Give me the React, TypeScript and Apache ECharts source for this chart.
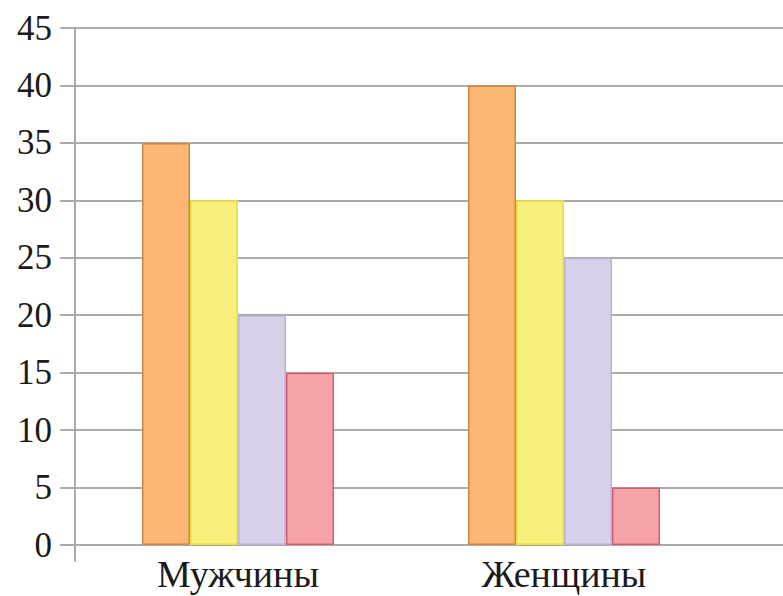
import React, { useEffect, useRef } from "react";
import * as echarts from "echarts";

const categories = ["Мужчины", "Женщины"];
const series1 = [35, 40];
const series2 = [30, 30];
const series3 = [20, 25];
const series4 = [15, 5];
const yMin = 0;
const yMax = 45;
const yStep = 5;

const fills = ["#fdb574", "#f8ee7c", "#d9d1ea", "#f5a3a8"];
const borders = ["#c98845", "#eadc3c", "#bbb1d3", "#d2606e"];

export default function App() {
  const ref = useRef<HTMLDivElement>(null);
  useEffect(() => {
    if (!ref.current) return;
    const chart = echarts.init(ref.current, null, { renderer: "svg" });
    const font = "Liberation Serif";
    const grey = "#ababab";
    const dataSets = [series1, series2, series3, series4];
    chart.setOption({
      animation: false,
      backgroundColor: "#ffffff",
      grid: [
        { left: 60, right: 0, top: 28, bottom: 51 },
        { left: 75, right: 0, top: 28, bottom: 35 },
        { left: 75, right: 56, top: 28, bottom: 51 },
      ],
      xAxis: [
        { gridIndex: 0, type: "value", show: false, min: 0, max: 1 },
        { gridIndex: 1, type: "value", show: false, min: 0, max: 1 },
        {
          gridIndex: 2,
          type: "category",
          data: categories,
          axisLine: { show: false },
          axisTick: { show: false },
          axisLabel: {
            fontFamily: font,
            fontSize: 38,
            lineHeight: 38,
            color: "#1a1a1a",
            margin: 10,
          },
        },
      ],
      yAxis: [
        {
          gridIndex: 0,
          type: "value",
          min: yMin,
          max: yMax,
          interval: yStep,
          axisLine: { show: false },
          axisTick: { show: false },
          axisLabel: { show: false },
          splitLine: { show: true, lineStyle: { color: grey, width: 2 } },
        },
        {
          gridIndex: 1,
          type: "value",
          min: 0,
          max: 1,
          axisLine: { show: true, lineStyle: { color: grey, width: 2 } },
          axisTick: { show: false },
          axisLabel: { show: false },
          splitLine: { show: false },
        },
        {
          gridIndex: 2,
          type: "value",
          min: yMin,
          max: yMax,
          interval: yStep,
          axisLine: { show: false },
          axisTick: { show: false },
          splitLine: { show: false },
          axisLabel: { fontFamily: font, fontSize: 35, color: "#1a1a1a", margin: 23 },
        },
      ],
      series: dataSets.map((d, i) => ({
        type: "bar",
        xAxisIndex: 2,
        yAxisIndex: 2,
        data: d,
        barWidth: 48,
        barGap: "0%",
        itemStyle: { color: fills[i], borderColor: borders[i], borderWidth: 1.5 },
      })),
    });
    return () => chart.dispose();
  }, []);
  return (
    <div
      ref={ref}
      style={{ position: "fixed", left: 0, top: 0, width: 783, height: 596 }}
    />
  );
}
